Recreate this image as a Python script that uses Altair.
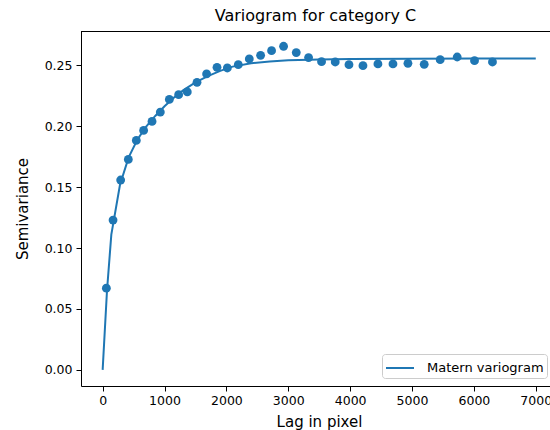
import altair as alt
import pandas as pd

# Experimental semivariance per lag bin
lags = [60, 168, 291, 415, 544, 662, 798, 932, 1078, 1228, 1368, 1525, 1680,
        1848, 2015, 2192, 2370, 2553, 2730, 2924, 3129, 3328, 3538, 3759, 3981,
        4207, 4449, 4692, 4934, 5197, 5455, 5730, 6010, 6300]
semivariance = [0.0671, 0.1230, 0.1559, 0.1728, 0.1884, 0.1966, 0.2040, 0.2117,
                0.2221, 0.2260, 0.2282, 0.2361, 0.2430, 0.2484, 0.2479, 0.2506,
                0.2553, 0.2583, 0.2621, 0.2657, 0.2605, 0.2564, 0.2531, 0.2528,
                0.2506, 0.2498, 0.2512, 0.2512, 0.2517, 0.2509, 0.2547, 0.2569,
                0.2539, 0.2528]

# Fitted Matern model curve
model_lags = [0, 70, 140, 280, 420, 560, 700, 850, 1000, 1150, 1300, 1500, 1700,
              1900, 2100, 2400, 2700, 3000, 3500, 4000, 5000, 6000, 7000]
model_values = [0.0, 0.065, 0.111, 0.152, 0.1745, 0.189, 0.1995, 0.2085, 0.2165,
                0.2235, 0.2295, 0.236, 0.2412, 0.2455, 0.249, 0.2518, 0.2533,
                0.2542, 0.2549, 0.2553, 0.2555, 0.2556, 0.2556]

x_ticks = [0, 1000, 2000, 3000, 4000, 5000, 6000, 7000]
y_ticks = [0.0, 0.05, 0.10, 0.15, 0.20, 0.25]

BLUE = "#1f77b4"
FONT = "DejaVu Sans"
W, H = 469, 355

points = pd.DataFrame({"lag": lags, "gamma": semivariance})
model = pd.DataFrame({"lag": model_lags, "gamma": model_values,
                      "series": ["Matern variogram"] * len(model_lags)})

x_scale = alt.Scale(domain=[-350, 7230], nice=False, zero=False)
y_scale = alt.Scale(domain=[-0.01325, 0.27825], nice=False, zero=False)

axis_style = dict(grid=False, tickSize=5, labelFont=FONT, labelFontSize=12.5,
                  labelColor="black", titleFont=FONT, titleFontSize=15,
                  titleFontWeight="normal", titleColor="black",
                  domainColor="black", tickColor="black")

x_axis = alt.Axis(values=x_ticks, format="d", title="Lag in pixel",
                  labelPadding=3, titleX=238, titleY=40,
                  titleBaseline="alphabetic", titleAlign="center", **axis_style)
y_axis = alt.Axis(values=y_ticks, format=".2f", title="Semivariance",
                  labelPadding=4, titleX=-59, titleY=H / 2, titleAngle=-90,
                  titleBaseline="middle", titleAlign="center", **axis_style)

# legend key: a short horizontal stroke
legend_stroke = "M -1 0 L 1.8 0"

line = alt.Chart(model).mark_line(strokeWidth=2, clip=True).encode(
    x=alt.X("lag:Q", scale=x_scale, axis=x_axis),
    y=alt.Y("gamma:Q", scale=y_scale, axis=y_axis),
    color=alt.Color("series:N", scale=alt.Scale(range=[BLUE]),
                    legend=alt.Legend(orient="none", legendX=301, legendY=323,
                                      title=None, symbolType=legend_stroke,
                                      symbolSize=400, symbolStrokeWidth=2,
                                      labelFontSize=13, labelFont=FONT,
                                      labelColor="black", labelOffset=20,
                                      padding=3, fillColor="white",
                                      strokeColor="#cccccc", cornerRadius=3)),
)

dots = alt.Chart(points).mark_circle(size=78, color=BLUE, opacity=1).encode(
    x=alt.X("lag:Q", scale=x_scale),
    y=alt.Y("gamma:Q", scale=y_scale),
)

top_edge = alt.Chart(points).mark_rule(color="black", strokeWidth=1).encode(
    x=alt.value(0), x2=alt.value(W), y=alt.value(0.5)
)

chart = alt.layer(line, dots, top_edge).properties(
    width=W, height=H,
    background="white",
    title=alt.TitleParams("Variogram for category C", fontSize=16, font=FONT,
                          fontWeight="normal", color="black",
                          baseline="alphabetic", offset=7, dy=13,
                          anchor="middle"),
    autosize=alt.AutoSizeParams(type="none"),
    padding={"left": 81, "top": 31, "right": 0, "bottom": 44},
).configure_view(stroke=None)

chart.save("out.html", embed_options={"renderer": "svg", "actions": False})
